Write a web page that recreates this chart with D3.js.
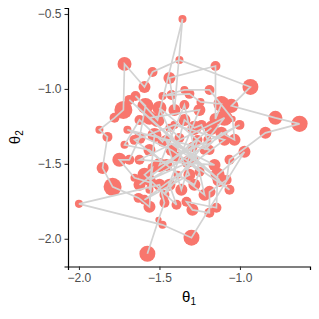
<!DOCTYPE html>
<html>
<head>
<meta charset="utf-8">
<script src="https://cdn.jsdelivr.net/npm/d3@7"></script>
<style>
  body { margin: 0; background: #fff; }
  text { font-family: "Liberation Sans", Arial, sans-serif; }
</style>
</head>
<body>
<div id="chart"></div>
<script>
// chain of sampled values, in visiting order
var theta1 = [-1.575, -1.506, -1.469, -1.500, -2.000, -1.481, -1.301, -0.972, -1.139, -1.146,
              -1.332, -1.295, -1.190, -1.189, -1.083, -1.065, -0.842, -0.630, -0.780, -1.053,
              -0.935, -1.376, -1.543, -1.593, -1.717, -1.724, -1.779, -1.873, -1.823, -1.853,
              -1.791, -1.630, -1.562, -1.550, -1.655, -1.749, -1.687, -1.624, -1.587, -1.649,
              -1.512, -1.357, -1.407, -1.438, -1.152, -1.152, -1.115, -1.245, -1.314, -1.425,
              -1.481, -1.345, -1.189, -1.046, -1.034, -1.115, -1.220, -1.202, -1.239, -1.283,
              -1.345, -1.376, -1.438, -1.481, -1.624, -1.717, -1.562, -1.457, -1.394, -1.295,
              -1.326, -1.251, -1.283, -1.388, -1.438, -1.394, -1.593, -1.543, -1.562,
              -1.531, -1.158, -1.624, -1.096, -1.469, -1.252, -1.562, -1.065, -1.425, -1.699,
              -1.189, -1.500, -1.314, -1.593, -1.096, -1.407, -1.655, -1.220, -1.345, -1.500,
              -1.003, -1.562, -1.283, -1.687, -1.127, -1.458, -1.364, -1.264, -1.624, -1.177];
var theta2 = [-2.100, -1.873, -1.760, -1.640, -1.767, -1.907, -1.993, -1.420, -1.573, -1.793,
              -1.753, -1.807, -1.827, -1.687, -1.607, -1.473, -1.293, -1.233, -1.193, -1.113,
              -0.987, -0.807, -0.887, -0.987, -0.833, -1.140, -1.193, -1.273, -1.320, -1.527,
              -1.653, -1.727, -1.787, -1.627, -1.593, -1.473, -1.473, -1.327, -1.113, -1.047,
              -1.207, -0.533, -1.140, -0.927, -0.847, -1.200, -1.100, -1.087, -1.033, -1.040,
              -1.047, -1.007, -1.007, -1.200, -1.340, -1.293, -1.407, -1.340, -1.240, -1.260,
              -1.207, -1.327, -1.260, -1.353, -1.207, -1.373, -1.407, -1.507, -1.453, -1.387,
              -1.487, -1.553, -1.640, -1.573, -1.640, -1.773, -1.573, -1.527, -1.673,
              -1.307, -1.507, -1.473, -1.193, -1.707, -1.140, -1.193, -1.673, -1.407, -1.273,
              -1.407, -1.127, -1.573, -1.740, -1.340, -1.240, -1.340, -1.707, -1.107, -1.507,
              -1.240, -1.607, -1.473, -1.073, -1.607, -1.340, -1.673, -1.340, -1.640, -1.260];
// weight of each sample (drives point size)
var weight = [0.83, 0.02, 0.33, 0.50, 0.17, 0.17, 0.83, 0.50, 0.67, 0.33,
              0.33, 0.50, 0.33, 0.50, 0.33, 0.33, 0.50, 0.85, 0.67, 0.67,
              0.83, 0.17, 0.33, 0.50, 0.67, 1.00, 0.33, 0.17, 0.33, 0.50,
              1.00, 0.33, 0.50, 0.33, 0.17, 0.67, 0.33, 0.50, 0.83, 0.33,
              0.67, 0.17, 0.50, 0.50, 0.33, 0.50, 0.83, 0.17, 0.33, 0.33,
              0.17, 0.17, 0.33, 0.02, 0.50, 0.50, 0.33, 0.17, 0.33, 0.67,
              0.50, 0.33, 0.17, 0.33, 0.33, 0.17, 0.50, 0.50, 0.33, 0.33,
              0.50, 0.33, 0.50, 0.17, 0.50, 0.33, 0.67, 0.33, 0.17,
              0.67, 0.50, 0.33, 0.83, 0.33, 0.50, 0.67, 0.33, 0.50, 0.17,
              0.33, 0.67, 0.50, 0.33, 0.50, 0.17, 0.33, 0.50, 0.33, 0.67,
              0.33, 0.50, 0.17, 0.33, 0.67, 0.33, 0.50, 0.33, 0.50, 0.67];

var xTicks = [-2.0, -1.5, -1.0],
    yTicks = [-2.0, -1.5, -1.0, -0.5];

var width = 319,
    height = 319;

var margin = {
    top: 8,
    right: 9,
    bottom: 52.5,
    left: 68
};

var innerW = width - margin.left - margin.right,
    innerH = height - margin.top - margin.bottom;

var samples = theta1.map(function(d, i) {
    return {x: d, y: theta2[i], w: weight[i]};
});

var x = d3.scaleLinear().domain([-2.068, -0.565]).range([0, innerW]);
var y = d3.scaleLinear().domain([-2.185, -0.46]).range([innerH, 0]);
var r = d3.scaleLinear().domain([0, 1]).range([3, 9]);

var minus = function(v) { return d3.format(".1f")(v).replace("-", "\u2212"); };

var svg = d3.select("#chart")
    .append("svg")
    .attr("width", width)
    .attr("height", height);

var g = svg.append("g")
    .attr("transform", "translate(" + margin.left + "," + margin.top + ")");

// points first, chain drawn over them
g.selectAll(".pt")
    .data(samples)
    .enter().append("circle")
    .attr("class", "pt")
    .attr("cx", function(d) { return x(d.x); })
    .attr("cy", function(d) { return y(d.y); })
    .attr("r", function(d) { return r(d.w); })
    .attr("fill", "#F8766D");

var line = d3.line()
    .x(function(d) { return x(d.x); })
    .y(function(d) { return y(d.y); });

g.append("path")
    .datum(samples)
    .attr("d", line)
    .attr("fill", "none")
    .attr("stroke", "#d3d3d3")
    .attr("stroke-width", 1.7);

// axes
var xAxis = g.append("g")
    .attr("transform", "translate(0," + innerH + ")")
    .call(d3.axisBottom(x).tickValues(xTicks).tickFormat(minus).tickSize(3.5).tickPadding(3));

var yAxis = g.append("g")
    .call(d3.axisLeft(y).tickValues(yTicks).tickFormat(minus).tickSize(3.5).tickPadding(3));

[xAxis, yAxis].forEach(function(a) {
    a.select(".domain").attr("stroke", "#000").attr("stroke-width", 1.2);
    a.selectAll(".tick line").attr("stroke", "#333").attr("stroke-width", 1.1);
    a.selectAll(".tick text").attr("fill", "#4d4d4d").attr("font-size", "12px")
        .attr("font-family", "DejaVu Sans, sans-serif");
});

// axis titles
var xt = svg.append("text")
    .attr("x", margin.left + innerW / 2)
    .attr("y", 302)
    .attr("text-anchor", "middle")
    .attr("font-size", "15px")
    .attr("font-family", "DejaVu Sans, sans-serif")
    .attr("fill", "#000");
xt.append("tspan").text("\u03b8");
xt.append("tspan").attr("font-size", "10px").attr("dy", 3).text("1");

var yt = svg.append("text")
    .attr("transform", "translate(20," + (margin.top + innerH / 2) + ") rotate(-90)")
    .attr("text-anchor", "middle")
    .attr("font-size", "15px")
    .attr("font-family", "DejaVu Sans, sans-serif")
    .attr("fill", "#000");
yt.append("tspan").text("\u03b8");
yt.append("tspan").attr("font-size", "10px").attr("dy", 3).text("2");
</script>
</body>
</html>
